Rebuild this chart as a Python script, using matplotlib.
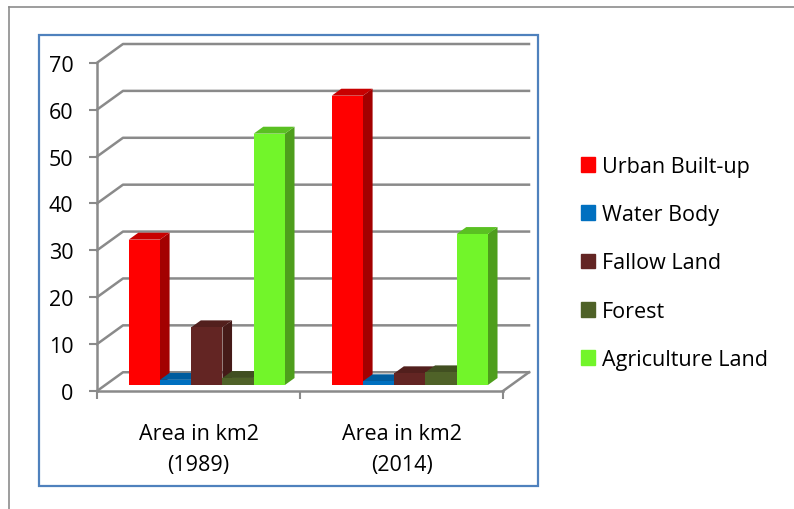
import matplotlib.pyplot as plt
from matplotlib.patches import Patch, Rectangle
from matplotlib.lines import Line2D

# значения
categories = ['Area in km2\n(1989)', 'Area in km2\n(2014)']
classes = ['Urban Built-up', 'Water Body', 'Fallow Land', 'Forest', 'Agriculture Land']
area_1989 = [31.0, 1.1, 12.3, 1.5, 53.6]
area_2014 = [61.7, 0.8, 2.5, 2.7, 32.2]
yticks = [0, 10, 20, 30, 40, 50, 60, 70]

# цвета граней: передняя, боковая, верхняя
front_colors = ['#FF0000', '#0070C0', '#632523', '#4F6228', '#72F52A']
side_colors = ['#A30000', '#004F88', '#451A18', '#374419', '#4E9E1C']
top_colors = ['#C80000', '#005C9E', '#521F1D', '#414F21', '#5AC022']

plt.rcParams['font.family'] = ['Open Sans', 'DejaVu Sans']
FS = 15.5

# смещение "глубины" для псевдо-3D
DX, DY = 0.128, 4.0        # задняя стенка
F1, F2 = 0.32, 0.69        # передняя и задняя грань столбиков
W = 1 / 6.5                # ширина столбика (gap 150%)
grid_c = '#8A8A8A'

fig = plt.figure(figsize=(7.94, 5.10), dpi=100)
ax = fig.add_axes([97 / 794, 118 / 510, 432 / 794, 347 / 510])
ax.set_xlim(-0.5, 1.5 + DX)
ax.set_ylim(0, 70 + DY)

# сетка на боковой и задней стенке
for v in yticks:
    ax.plot([-0.5, -0.5 + DX, 1.5 + DX], [v, v + DY, v + DY],
            color=grid_c, lw=1.8, clip_on=False, zorder=1)
# правый край пола
ax.plot([1.5, 1.5 + DX], [0, DY], color=grid_c, lw=1.8, clip_on=False, zorder=1)

# столбики
for j, vals in enumerate([area_1989, area_2014]):
    for i, v in enumerate(vals):
        x0 = j - 0.5 + 0.75 * W + i * W + F1 * DX
        y0 = F1 * DY
        ddx = (F2 - F1) * DX
        ddy = (F2 - F1) * DY
        ax.fill([x0 + W, x0 + W + ddx, x0 + W + ddx, x0 + W],
                [y0, y0 + ddy, y0 + ddy + v, y0 + v],
                color=side_colors[i], lw=0, zorder=2 + j * 10 + i)
        ax.fill([x0, x0 + W, x0 + W + ddx, x0 + ddx],
                [y0 + v, y0 + v, y0 + v + ddy, y0 + v + ddy],
                color=top_colors[i], lw=0, zorder=2 + j * 10 + i)
        ax.bar(x0, v, width=W, bottom=y0, align='edge', color=front_colors[i],
               lw=0, zorder=2 + j * 10 + i)

for s in ['top', 'right']:
    ax.spines[s].set_visible(False)
ax.spines['left'].set_bounds(0, 70)
ax.spines['bottom'].set_bounds(-0.5, 1.5)
for s in ['left', 'bottom']:
    ax.spines[s].set_color(grid_c)
    ax.spines[s].set_linewidth(1.8)
    ax.spines[s].set_zorder(30)

ax.set_yticks(yticks)
ax.set_yticklabels([str(t) for t in yticks], fontsize=FS)
ax.set_xticks([-0.5, 0.5, 1.5])
ax.set_xticklabels(['', '', ''])
ax.set_xticks([0, 1], minor=True)
ax.set_xticklabels(categories, minor=True, fontsize=FS, linespacing=1.65)
ax.tick_params(axis='both', which='major', length=6, width=1.5, color=grid_c)
ax.tick_params(axis='y', pad=11)
ax.tick_params(axis='x', which='minor', length=0, pad=23)

# легенда
handles = [Patch(color=c, label=l) for c, l in zip(front_colors, classes)]
fig.legend(handles=handles, loc='center left', bbox_to_anchor=(572 / 794, 246 / 510),
           frameon=False, fontsize=FS, handlelength=0.68, handleheight=0.68,
           handletextpad=0.3, labelspacing=1.27, borderaxespad=0)

# синяя рамка области диаграммы и серая рамка страницы
fig.patches.append(Rectangle((39 / 794, 23 / 510), 499 / 794, 451 / 510, transform=fig.transFigure,
                             fill=False, edgecolor='#4F81BD', lw=1.6))
fig.lines.append(Line2D([9 / 794, 9 / 794], [0, 502 / 510], transform=fig.transFigure,
                        color='#8C8C8C', lw=1.2))
fig.lines.append(Line2D([9 / 794, 1], [502 / 510, 502 / 510], transform=fig.transFigure,
                        color='#8C8C8C', lw=1.2))

fig.savefig('out.png', dpi=100)
